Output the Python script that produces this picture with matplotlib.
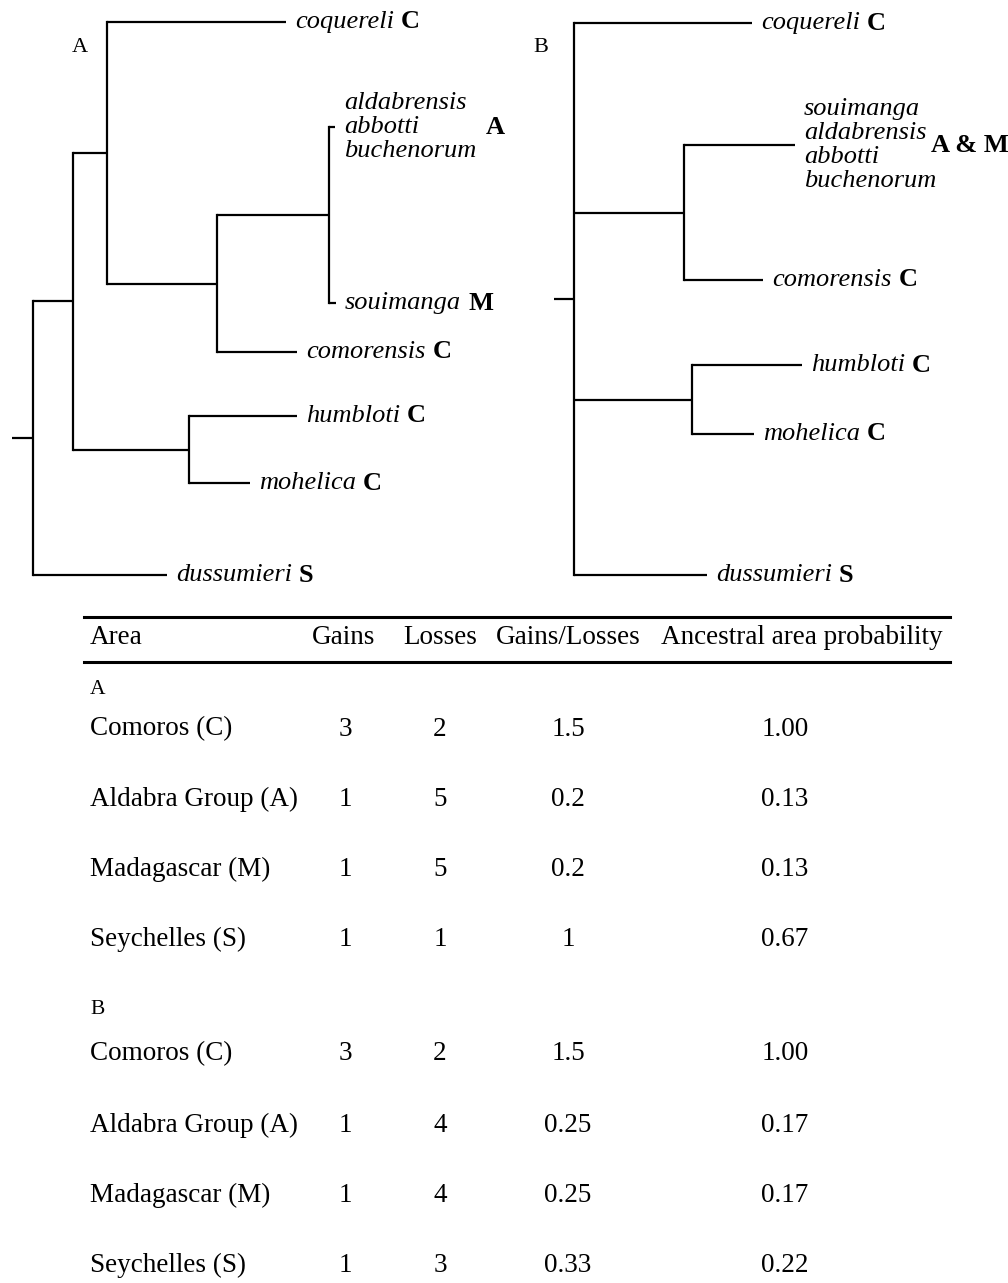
import matplotlib.pyplot as plt

plt.rcParams['font.family'] = ['Liberation Serif', 'DejaVu Serif']

# tree A: (x, children) for nodes, (tip_x, row_y, name, area) for leaves
tree_a = (33, [
    (73, [
        (107, [
            (286, 22, 'coquereli', 'C'),
            (217, [
                (329, [
                    (335, 127, 'aldabrensis\nabbotti\nbuchenorum', 'A'),
                    (336, 303, 'souimanga', 'M'),
                ]),
                (297, 352, 'comorensis', 'C'),
            ]),
        ]),
        (189, [
            (297, 416, 'humbloti', 'C'),
            (250, 483, 'mohelica', 'C'),
        ]),
    ]),
    (167, 575, 'dussumieri', 'S'),
])
root_stub_a = 12

tree_b = (574, [
    (752, 23, 'coquereli', 'C'),
    (684, [
        (795, 145, 'souimanga\naldabrensis\nabbotti\nbuchenorum', 'A & M'),
        (763, 280, 'comorensis', 'C'),
    ]),
    (692, [
        (802, 365, 'humbloti', 'C'),
        (754, 434, 'mohelica', 'C'),
    ]),
    (707, 575, 'dussumieri', 'S'),
])
root_stub_b = 554

# table
columns = ['Area', 'Gains', 'Losses', 'Gains/Losses', 'Ancestral area probability']
areas = ['Comoros (C)', 'Aldabra Group (A)', 'Madagascar (M)', 'Seychelles (S)']
gains_a = ['3', '1', '1', '1']
losses_a = ['2', '5', '5', '1']
ratio_a = ['1.5', '0.2', '0.2', '1']
prob_a = ['1.00', '0.13', '0.13', '0.67']
gains_b = ['3', '1', '1', '1']
losses_b = ['2', '4', '4', '3']
ratio_b = ['1.5', '0.25', '0.25', '0.33']
prob_b = ['1.00', '0.17', '0.17', '0.22']

fig = plt.figure(figsize=(10.08, 12.83), dpi=100)
ax = fig.add_axes([0, 0, 1, 1])
ax.set_xlim(0, 1008)
ax.set_ylim(1283, 0)
ax.axis('off')
renderer = fig.canvas.get_renderer()

LW = 1.6
FS = 19


def is_leaf(n):
    return len(n) == 4


def draw(node):
    # returns y of node
    if is_leaf(node):
        return node[1]
    x, kids = node
    ys = []
    for k in kids:
        y = draw(k)
        ys.append(y)
        ax.plot([x, k[0]], [y, y], color='black', lw=LW, solid_capstyle='butt')
    ax.plot([x, x], [ys[0], ys[-1]], color='black', lw=LW, solid_capstyle='projecting')
    return (ys[0] + ys[-1]) / 2


def labels(node):
    if not is_leaf(node):
        for k in node[1]:
            labels(k)
        return
    tip, y, name, area = node
    multi = '\n' in name
    t = ax.text(tip + 9, y, name, fontsize=FS, style='italic', va='center',
                ha='left', linespacing=1.12)
    bb = t.get_window_extent(renderer)
    right = ax.transData.inverted().transform((bb.x1, 0))[0]
    if not multi:
        gap = 7
    elif len(area) > 1:
        gap = -5
    else:
        gap = 9
    ax.text(right + gap, y, area, fontsize=FS, weight='bold', va='center', ha='left')


for tree, stub in [(tree_a, root_stub_a), (tree_b, root_stub_b)]:
    ry = draw(tree)
    ax.plot([stub, tree[0]], [ry, ry], color='black', lw=LW, solid_capstyle='butt')
    labels(tree)

ax.text(80, 47, 'A', fontsize=16, ha='center', va='center')
ax.text(541, 47, 'B', fontsize=16, ha='center', va='center')

# table rules
ax.plot([84, 950], [617, 617], color='black', lw=2.2)
ax.plot([84, 950], [662, 662], color='black', lw=2.2)

col_x = [90, 344, 440, 568, 802]
val_x = [90, 345, 440, 568, 785]
TFS = 19.5
ax.text(col_x[0], 638, columns[0], fontsize=TFS, ha='left', va='center')
for cx, c in zip(col_x[1:], columns[1:]):
    ax.text(cx, 638, c, fontsize=TFS, ha='center', va='center')

sections = [('A', 690, [729, 799, 869, 939], gains_a, losses_a, ratio_a, prob_a),
            ('B', 1010, [1054, 1125, 1195, 1265], gains_b, losses_b, ratio_b, prob_b)]
for tag, ty, rows, g, l, r, p in sections:
    ax.text(90, ty, tag, fontsize=15.5, ha='left', va='center')
    for i, ry in enumerate(rows):
        ax.text(val_x[0], ry, areas[i], fontsize=TFS, ha='left', va='center')
        for cx, v in zip(val_x[1:], [g[i], l[i], r[i], p[i]]):
            ax.text(cx, ry, v, fontsize=TFS, ha='center', va='center')

fig.savefig('out.png', dpi=100)
